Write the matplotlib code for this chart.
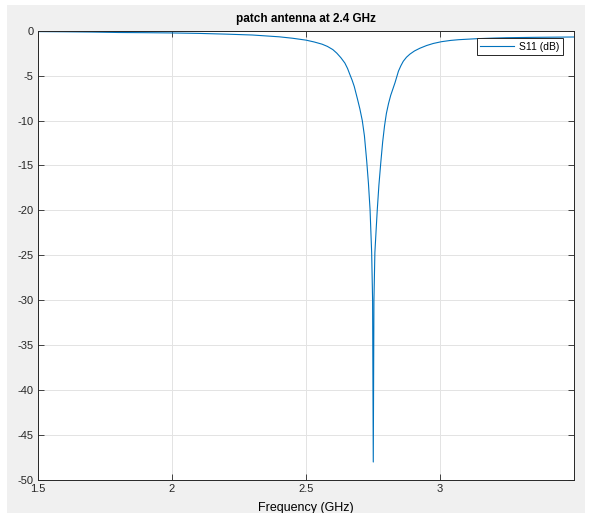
import numpy as np
import matplotlib.pyplot as plt
from matplotlib.patches import Rectangle

# S11
freq = [1.5, 1.6, 1.7, 1.8, 1.9, 2.0, 2.1, 2.2, 2.3, 2.4, 2.45, 2.5, 2.53, 2.56,
        2.58, 2.6, 2.615, 2.63, 2.645, 2.655, 2.664, 2.672, 2.68, 2.686, 2.692,
        2.701, 2.71, 2.718, 2.7265, 2.733, 2.739, 2.745, 2.7485, 2.751, 2.7535,
        2.757, 2.762, 2.766, 2.772, 2.779, 2.786, 2.793, 2.8, 2.808, 2.816,
        2.824, 2.832, 2.838, 2.845, 2.854, 2.863, 2.875, 2.888, 2.905, 2.925,
        2.95, 2.975, 3.006, 3.04, 3.07, 3.1, 3.137, 3.2, 3.25, 3.35, 3.5]
s11 = [-0.1, -0.12, -0.15, -0.2, -0.22, -0.25, -0.3, -0.38, -0.48, -0.68, -0.84,
       -1.05, -1.25, -1.5, -1.75, -2.1, -2.5, -3.0, -3.6, -4.2, -4.9, -5.5, -6.2,
       -6.9, -7.6, -8.7, -10.0, -11.7, -14.5, -17.0, -19.9, -24.7, -30, -48, -30,
       -24.7, -22.0, -19.9, -17.2, -14.7, -12.4, -10.6, -9.2, -8.1, -7.2, -6.5,
       -5.8, -5.2, -4.5, -3.9, -3.4, -2.95, -2.6, -2.25, -1.95, -1.65, -1.42,
       -1.22, -1.08, -1.0, -0.95, -0.89, -0.82, -0.78, -0.74, -0.7]

xticks = [1.5, 2, 2.5, 3]
xticklabels = ['1.5', '2', '2.5', '3']
yticks = [0, -5, -10, -15, -20, -25, -30, -35, -40, -45, -50]

plt.rcParams['font.family'] = ['Liberation Sans', 'DejaVu Sans']
plt.rcParams['axes.unicode_minus'] = False

fig = plt.figure(figsize=(5.94, 5.13), dpi=100, facecolor='white')
fig.patches.append(Rectangle((7 / 594, 0), 578 / 594, 1 - 5 / 513,
                             transform=fig.transFigure, facecolor='#f0f0f0',
                             edgecolor='none', zorder=-10))

ax = fig.add_axes([38 / 594, 1 - 480 / 513, 536 / 594, 449.3 / 513])
ax.set_facecolor('white')
ax.plot(freq, s11, color='#0072BD', lw=0.8, label='S11 (dB)')

ax.set_xlim(1.5, 3.5)
ax.set_ylim(-50, 0)
ax.set_xticks(xticks)
ax.set_xticklabels(xticklabels)
ax.set_yticks(yticks)
ax.tick_params(direction='in', length=4, width=0.6, labelsize=8,
               top=True, right=True, colors='#262626', pad=3)
ax.grid(True, color='#e3e3e3', lw=0.7)
ax.set_axisbelow(True)
for s in ax.spines.values():
    s.set_color('#262626')
    s.set_linewidth(0.7)

ax.set_title('patch antenna at 2.4 GHz', fontsize=8.5, fontweight='bold', pad=6)
ax.set_xlabel('Frequency (GHz)', fontsize=9, labelpad=6)

leg = ax.legend(loc='upper right', fontsize=7.5, fancybox=False, framealpha=1,
                edgecolor='#262626', borderpad=0.35, handlelength=3.2,
                handletextpad=0.5, borderaxespad=0,
                bbox_to_anchor=(0.9795, 0.984))
leg.get_frame().set_linewidth(0.7)

fig.savefig('out.png', dpi=100)
